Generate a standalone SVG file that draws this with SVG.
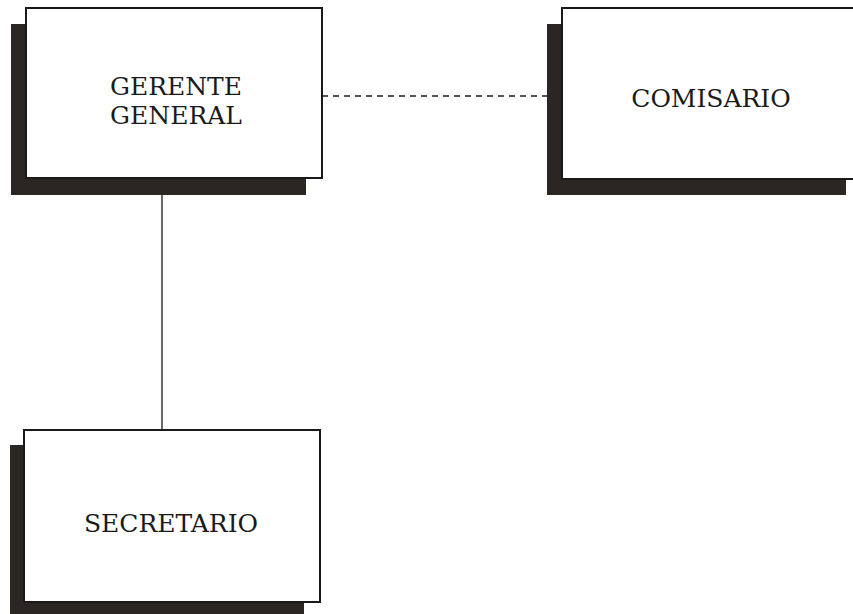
<svg xmlns="http://www.w3.org/2000/svg" width="853" height="614" viewBox="0 0 853 614">
<style>
.shadow{fill:#2b2623}
.box{fill:#fff;stroke:#1a1a1a;stroke-width:2}
.lbl{font-family:"DejaVu Serif","Liberation Serif",serif;font-size:25px;fill:#1a1a1a;text-anchor:middle}
.conn{stroke:#1a1a1a;stroke-width:1.3;fill:none}
</style>
<rect width="853" height="614" fill="#fff"/>
<g id="connectors">
<line class="conn" x1="162" y1="194" x2="162" y2="430"/>
<line class="conn" x1="322" y1="96" x2="562" y2="96" stroke-dasharray="6,5"/>
</g>
<g id="gerente">
<rect class="shadow" x="11" y="24" width="295" height="171"/>
<rect class="box" x="26" y="8" width="296" height="170"/>
<text class="lbl" x="176" y="95">GERENTE</text>
<text class="lbl" x="176" y="124">GENERAL</text>
</g>
<g id="comisario">
<rect class="shadow" x="547" y="24" width="299" height="171"/>
<rect class="box" x="562" y="8" width="300" height="171"/>
<text class="lbl" x="711" y="107">COMISARIO</text>
</g>
<g id="secretario">
<rect class="shadow" x="10" y="445" width="294" height="175"/>
<rect class="box" x="24" y="430" width="296" height="172"/>
<text class="lbl" x="171" y="532">SECRETARIO</text>
</g>
</svg>
